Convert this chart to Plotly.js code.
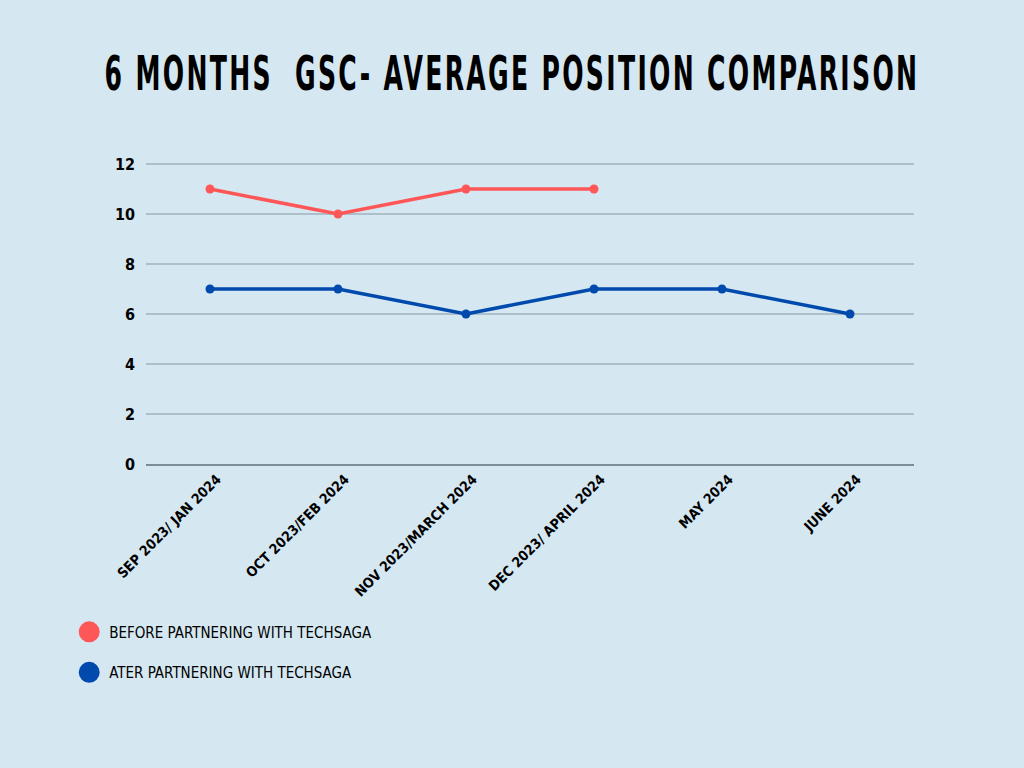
<!DOCTYPE html>
<html>
<head>
<meta charset="utf-8">
<script src="https://cdn.plot.ly/plotly-3.0.1.min.js"></script>
<style>
html,body{margin:0;padding:0;background:#d5e7f1;}
#chart{width:1024px;height:768px;}
.main-svg text{font-stretch:condensed;}
.gtitle{letter-spacing:4px;}
</style>
</head>
<body>
<div id="chart"></div>
<script>
const categories = ["SEP 2023/ JAN 2024","OCT 2023/FEB 2024","NOV 2023/MARCH 2024","DEC 2023/ APRIL 2024","MAY 2024","JUNE 2024"];
const beforeValues = [11, 10, 11, 11, null, null];
const afterValues = [7, 7, 6, 7, 7, 6];
const beforeName = "BEFORE PARTNERING WITH TECHSAGA";
const afterName = "ATER PARTNERING WITH TECHSAGA";
const yTicks = [0, 2, 4, 6, 8, 10, 12];

const RED = "#ff5757", BLUE = "#004aad";
const FONT = "'Liberation Sans Narrow', 'DejaVu Sans', sans-serif";

const traces = [
  {x: categories, y: beforeValues, mode: "lines+markers", name: beforeName, showlegend: false,
   line: {color: RED, width: 3.5}, marker: {color: RED, size: 9}, connectgaps: false},
  {x: categories, y: afterValues, mode: "lines+markers", name: afterName, showlegend: false,
   line: {color: BLUE, width: 3.5}, marker: {color: BLUE, size: 9}},
  {x: [categories[0]], y: [null], mode: "markers", name: beforeName, legendgroup: "a",
   marker: {color: RED, size: 16, line: {color: RED, width: 5}}, hoverinfo: "skip"},
  {x: [categories[0]], y: [null], mode: "markers", name: afterName, legendgroup: "b",
   marker: {color: BLUE, size: 16, line: {color: BLUE, width: 5}}, hoverinfo: "skip"}
];

const layout = {
  width: 1024, height: 768,
  paper_bgcolor: "#d5e7f1", plot_bgcolor: "#d5e7f1",
  margin: {l: 146, r: 110, t: 159, b: 304},
  title: {text: "6 MONTHS  GSC- AVERAGE POSITION COMPARISON",
    font: {family: FONT, size: 48, color: "#000", weight: "bold", shadow: "none"},
    x: 0.5, xanchor: "center", y: 1 - 73/768, yref: "container", yanchor: "middle"},
  xaxis: {type: "category", categoryarray: categories, range: [-0.5, 5.5],
    showgrid: false, showline: true, linecolor: "#7d8e99", linewidth: 1.5,
    tickangle: -45, ticks: "", ticklabelshift: 7,
    tickfont: {family: FONT, size: 14, color: "#000", weight: "bold"},
    zeroline: false, fixedrange: true},
  yaxis: {range: [0, 12.2], tickvals: yTicks, ticktext: yTicks.map(String),
    showgrid: true, gridcolor: "#adbfca", gridwidth: 1.5, zeroline: false, showline: false,
    ticklabelstandoff: 10,
    tickfont: {family: FONT, size: 16, color: "#000", weight: "bold"}, fixedrange: true},
  showlegend: true,
  legend: {x: -0.1, xanchor: "left", y: -0.497, yanchor: "top", bgcolor: "rgba(0,0,0,0)",
    font: {family: FONT, size: 15, color: "#000"}, traceorder: "grouped", tracegroupgap: 18,
    itemsizing: "trace"}
};

Plotly.newPlot("chart", traces, layout, {displayModeBar: false, staticPlot: true}).then(function(gd){
  // squeeze the title into the reference's narrow display-font width
  const t = gd.querySelector(".gtitle");
  if (t) {
    const w = t.getBBox().width;
    const s = 815 / w;
    t.style.transformBox = "fill-box";
    t.style.transformOrigin = "center";
    t.style.transform = "scaleX(" + s + ")";
  }
});
</script>
</body>
</html>
